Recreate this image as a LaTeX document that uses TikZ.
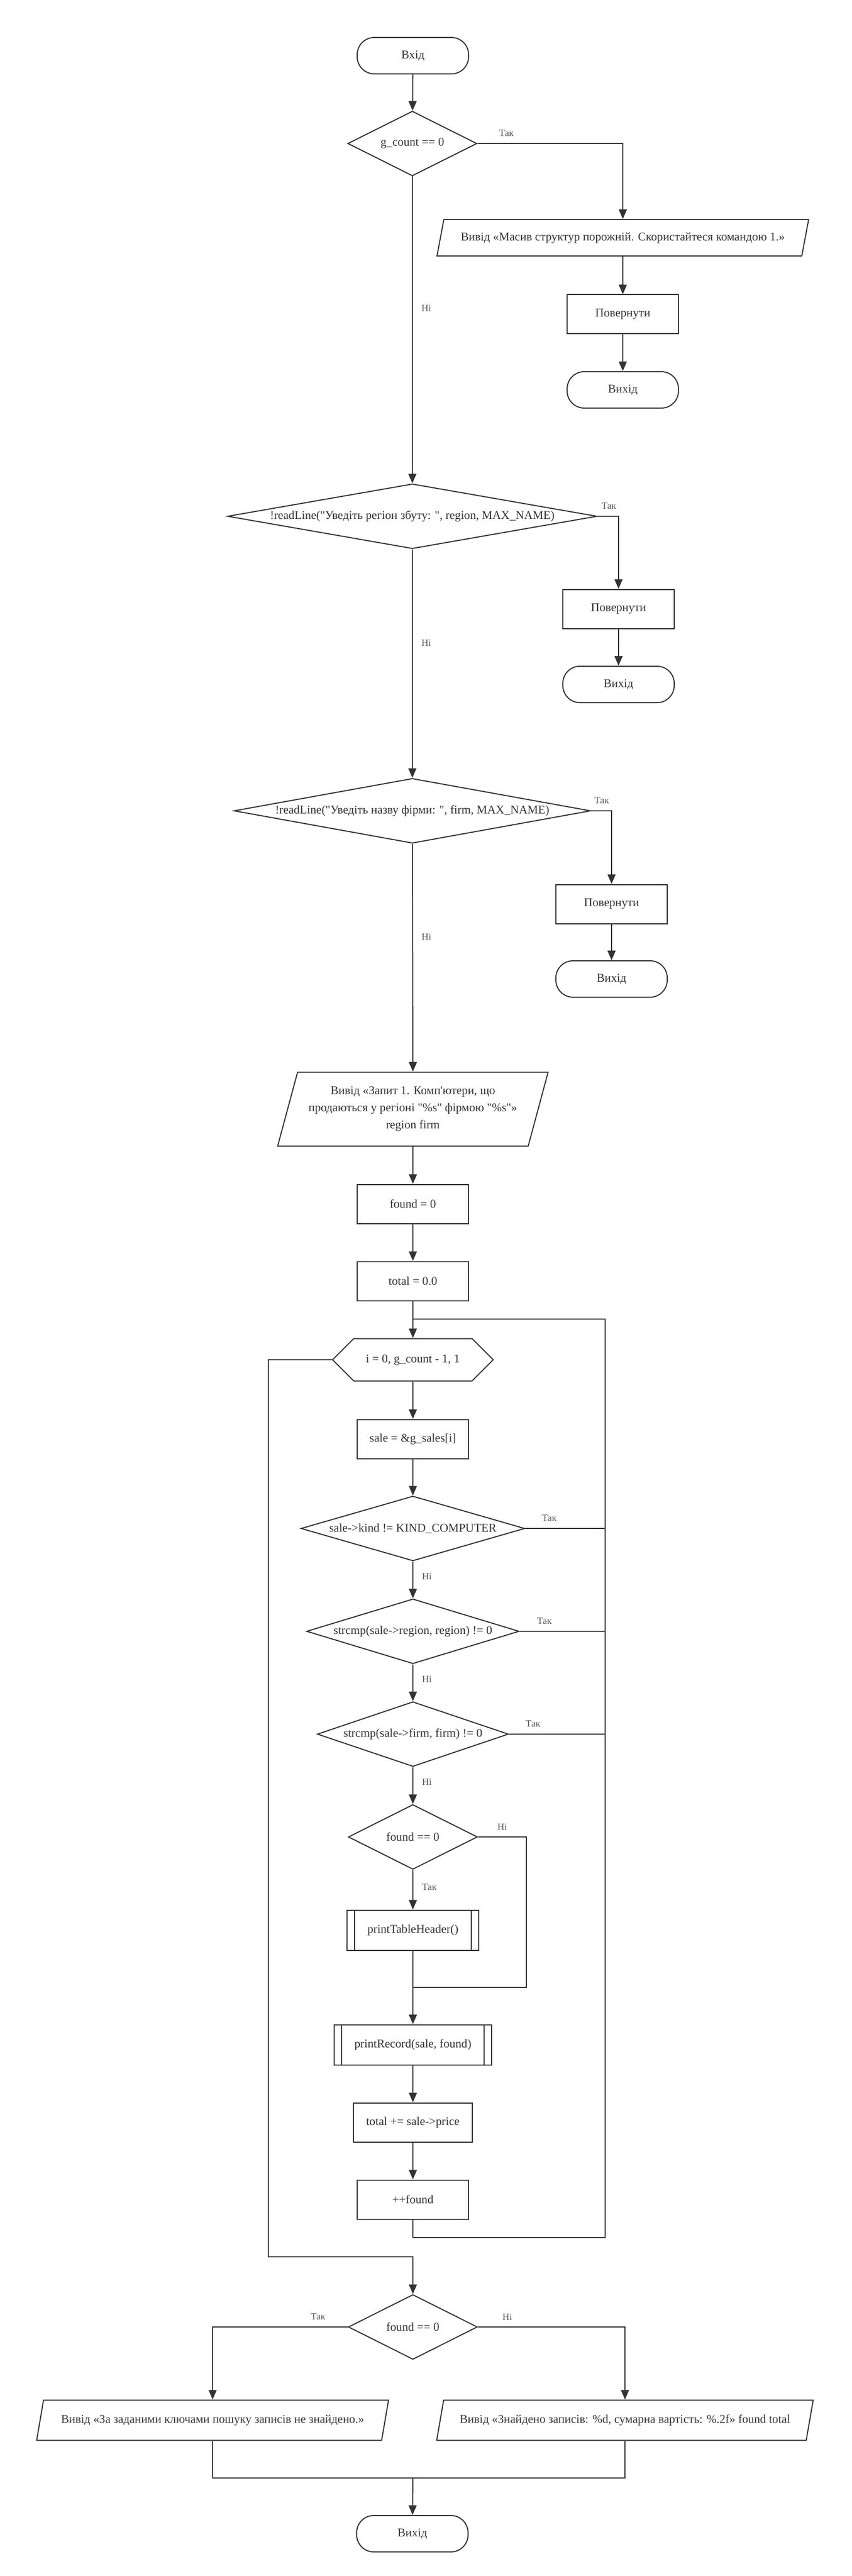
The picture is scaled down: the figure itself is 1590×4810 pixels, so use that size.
\documentclass[tikz,border=0pt]{standalone}
\usepackage{fontspec}
\setmainfont{Liberation Serif}[Ligatures=TeXOff]
\usetikzlibrary{shapes.geometric}
\usetikzlibrary{shapes.symbols}
\usetikzlibrary{arrows.meta}

\begin{document}
\begin{tikzpicture}[x=0.5pt,y=-0.5pt,
      color=black!80, line width=1pt,
      >={Triangle[length=9pt,width=7.5pt]},
      every node/.style={font=\fontsize{11.1}{16}\selectfont},
      term/.style={draw, rounded corners=16pt, minimum width=104pt, minimum height=34pt},
      proc/.style={draw, minimum width=104pt, minimum height=36.5pt, inner xsep=11.75pt},
      sub/.style={proc, inner xsep=19pt, minimum height=37.5pt},
      cond/.style={draw, diamond, inner sep=0pt, minimum height=60.5pt},
      io/.style={draw, trapezium, trapezium left angle=69, trapezium right angle=111,
        trapezium stretches body=true, inner xsep=2pt, align=center},
      cyc/.style={draw, signal, signal to=west and east, signal pointer angle=90,
        minimum width=150pt, minimum height=39.5pt},
      lbl/.style={font=\fontsize{9}{11}\selectfont, text=black!65, inner sep=2pt},
      ]
      \useasboundingbox (0,0) rectangle (1590,4810);

      \node[term] (in) at (771,104) {Вхід};
      \node[cond, minimum width=120.5pt] (d1) at (770,268) {\makebox[0pt]{g\_count == 0}};
      \node[io, minimum width=347pt, minimum height=34pt] (o1) at (1163,444)
        {Вивід «Масив структур порожній. Скористайтеся командою 1.»};
      \node[proc] (r1) at (1163,587) {Повернути};
      \node[term] (e1) at (1163,728) {Вихід};
      \node[cond, minimum width=345pt] (d2) at (770,964)
        {\makebox[0pt]{!readLine("Уведіть регіон збуту: ", region, MAX\_NAME)}};
      \node[proc] (r2) at (1155,1137) {Повернути};
      \node[term] (e2) at (1155,1278) {Вихід};
      \node[cond, minimum width=333pt] (d3) at (770,1514)
        {\makebox[0pt]{!readLine("Уведіть назву фірми: ", firm, MAX\_NAME)}};
      \node[proc] (r3) at (1142,1688) {Повернути};
      \node[term] (e3) at (1142,1828) {Вихід};
      \node[io, minimum width=252.5pt, minimum height=69pt] (o2) at (771,2071)
        {Вивід «Запит 1. Комп'ютери, що\\продаються у регіоні "\%s" фірмою "\%s"»\\region firm};
      \node[proc] (fz) at (771,2248) {found = 0};
      \node[proc] (tz) at (771,2392) {total = 0.0};
      \node[cyc] (cyc) at (771,2539) {i = 0, g\_count - 1, 1};
      \node[proc] (sl) at (771,2687) {sale = \&g\_sales[i]};
      \node[cond, minimum width=209pt] (dk) at (771,2854) {\makebox[0pt]{sale->kind != KIND\_COMPUTER}};
      \node[cond, minimum width=198.5pt] (dr) at (771,3046) {\makebox[0pt]{strcmp(sale->region, region) != 0}};
      \node[cond, minimum width=178.5pt] (df) at (771,3238) {\makebox[0pt]{strcmp(sale->firm, firm) != 0}};
      \node[cond, minimum width=120.5pt] (dz) at (771,3430) {\makebox[0pt]{found == 0}};
      \node[sub] (ph) at (771,3604) {printTableHeader()};
      \node[sub] (pr) at (771,3818) {printRecord(sale, found)};
      \node[proc] (ts) at (771,3963) {total += sale->price};
      \node[proc] (inc) at (771,4107) {++found};
      \node[cond, minimum width=120.5pt] (fd) at (771,4345) {\makebox[0pt]{found == 0}};
      \node[io, minimum width=328.5pt, minimum height=37.5pt] (nf) at (397,4519)
        {Вивід «За заданими ключами пошуку записів не знайдено.»};
      \node[io, minimum width=351.5pt, minimum height=37.5pt] (ok) at (1167,4519)
        {Вивід «Знайдено записів: \%d, сумарна вартість: \%.2f» found total};
      \node[term] (out) at (770,4731) {Вихід};

      \foreach \n in {ph,pr} {
        \draw ([xshift=7.5pt]\n.north west) -- ([xshift=7.5pt]\n.south west)
              ([xshift=-7.5pt]\n.north east) -- ([xshift=-7.5pt]\n.south east);
      }

      \coordinate (lj) at (771,2463);
      \coordinate (lb) at (1130,4178);
      \coordinate (xe) at (501,4214);
      \coordinate (xj) at (771,4214);
      \coordinate (hj) at (771,3711);
      \coordinate (hr) at (983,3711);
      \coordinate (mj) at (771,4627);

      \draw[->] (in) -- (d1);
      \draw[->] (d1.east) -| node[lbl, above=4pt, pos=0.1] {Так} (o1.north);
      \draw[->] (o1) -- (r1);
      \draw[->] (r1) -- (e1);
      \draw[->] (d1.south) -- node[lbl, right=6pt, pos=0.43] {Ні} (d2.north);
      \draw[->] (d2.east) -| node[lbl, above=4pt, pos=0.27] {Так} (r2.north);
      \draw[->] (r2) -- (e2);
      \draw[->] (d2.south) -- node[lbl, right=6pt, pos=0.41] {Ні} (d3.north);
      \draw[->] (d3.east) -| node[lbl, above=4pt, pos=0.26] {Так} (r3.north);
      \draw[->] (r3) -- (e3);
      \draw[->] (d3.south) -- node[lbl, right=6pt, pos=0.41] {Ні} (o2.north);
      \draw[->] (o2.south) -- (fz);
      \draw[->] (fz) -- (tz);
      \draw[->] (tz) -- (cyc);
      \draw[->] (cyc) -- (sl);
      \draw[->] (sl) -- (dk);
      \draw (dk.east) -- node[lbl, above=4pt, pos=0.3] {Так} (dk.east -| lb);
      \draw[->] (dk.south) -- node[lbl, right=6pt, pos=0.41] {Ні} (dr.north);
      \draw (dr.east) -- node[lbl, above=4pt, pos=0.29] {Так} (dr.east -| lb);
      \draw[->] (dr.south) -- node[lbl, right=6pt, pos=0.41] {Ні} (df.north);
      \draw (df.east) -- node[lbl, above=4pt, pos=0.25] {Так} (df.east -| lb);
      \draw[->] (df.south) -- node[lbl, right=6pt, pos=0.41] {Ні} (dz.north);
      \draw (dz.east) -| node[lbl, above=4pt, pos=0.25] {Ні} (hr) -- (hj);
      \draw[->] (dz.south) -- node[lbl, right=6pt, pos=0.43] {Так} (ph.north);
      \draw[->] (ph.south) -- (pr.north);
      \draw[->] (pr) -- (ts);
      \draw[->] (ts) -- (inc);
      \draw (inc.south) |- (lb) |- (lj);
      \draw[->] (cyc.west) -| (xe) -- (xj) -- (fd.north);
      \draw[->] (fd.west) -| node[lbl, above=4pt, pos=0.11] {Так} (nf.north);
      \draw[->] (fd.east) -| node[lbl, above=4pt, pos=0.1] {Ні} (ok.north);
      \draw (nf.south) |- (mj);
      \draw (ok.south) |- (mj);
      \draw[->] (mj) -- (out);
    \end{tikzpicture}
\end{document}
